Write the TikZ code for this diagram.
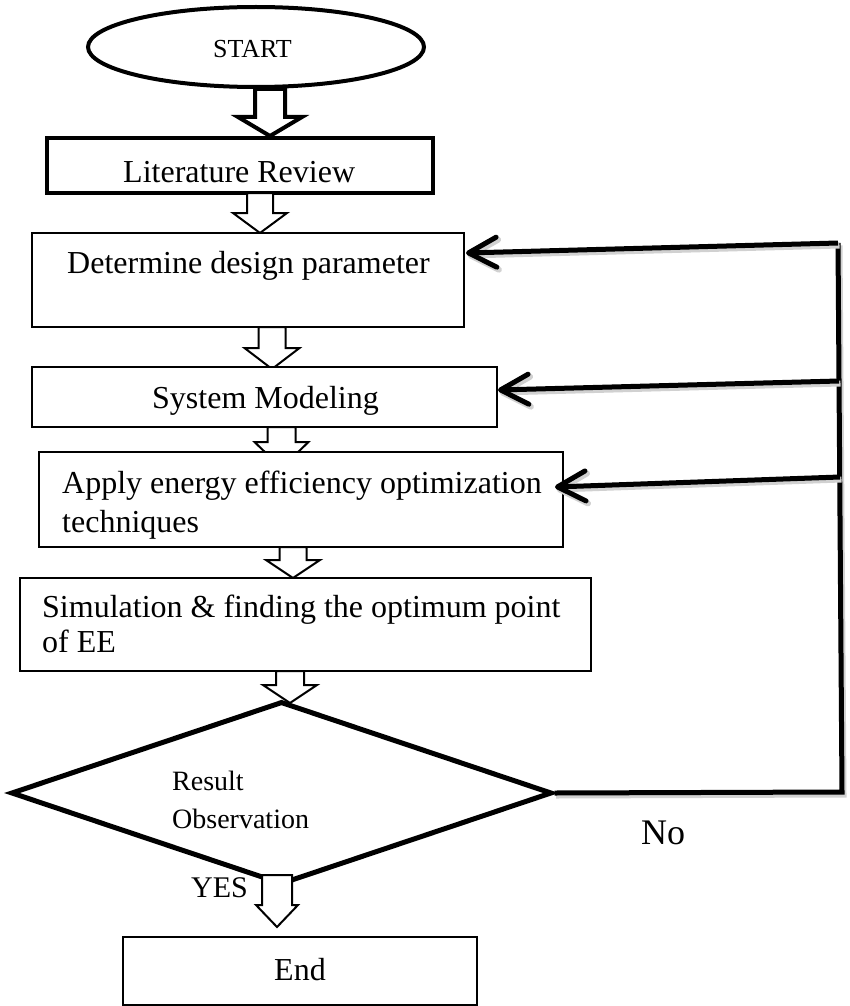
\documentclass[tikz,border=0pt]{standalone}
\usepackage{fontspec}
\setmainfont{Liberation Serif}
\usetikzlibrary{shapes.geometric,arrows.meta}
\newcommand{\dnarrow}[7]{%
  \draw[#1] ({#2-#6},#3) -- ({#2+#6},#3) -- ({#2+#6},#4) -- ({#2+#7},#4) -- (#2,#5) -- ({#2-#7},#4) -- ({#2-#6},#4) -- cycle;}
\begin{document}
\begin{tikzpicture}[x=1pt,y=-1pt,
  box/.style={draw, line width=2pt, fill=white, inner sep=0pt},
  txt/.style={inner sep=0pt, font=\fontsize{32}{37}\selectfont, anchor=base west},
  barrow/.style={draw, line width=2pt, fill=white, line join=miter},
  shad/.style={preaction={draw=black!18, line width=6pt, transform canvas={shift={(1.5pt,-2.5pt)}}}},
  fbline/.style={line width=5pt, line join=miter, shad},
  fbtip/.style={line width=5pt, shad, -{Straight Barb[length=28pt,width=30pt,round]}},
]
\useasboundingbox[fill=white] (0,0) rectangle (849,1006);

% START
\node[draw, ellipse, line width=4pt, minimum width=336pt, minimum height=80pt, inner sep=0pt] (start) at (256,47) {};
\node[inner sep=0pt, font=\fontsize{26}{30}\selectfont] (starttxt) at (252.5,49) {START};
\dnarrow{barrow, line width=4pt}{270}{89}{117}{136}{15}{32}

% Literature review
\node[box, line width=4pt, minimum width=386pt, minimum height=55pt] (lit) at (240,165.5) {};
\node[txt] (littxt) at (123,182) {Literature Review};
\dnarrow{barrow}{260}{193}{213}{233}{13}{27}

% Determine design parameter
\node[box, minimum width=432pt, minimum height=94pt] (det) at (248,280) {};
\node[txt] (dettxt) at (67,273) {Determine design parameter};
\dnarrow{barrow}{272}{327}{348}{369}{13.5}{27.5}

% System modeling
\node[box, minimum width=465pt, minimum height=60pt] (sys) at (264.5,397) {};
\node[txt] (systxt) at (152,408) {System Modeling};
\dnarrow{barrow}{281.5}{427}{442}{468}{14}{27}

% Apply
\node[box, minimum width=524pt, minimum height=95pt] (app) at (301,499.5) {};
\node[txt] (apptxt1) at (62,493) {Apply energy efficiency optimization};
\begin{scope}
  \clip (39,452) rectangle (563,546);
  \node[txt] (apptxt2) at (62,532) {techniques};
\end{scope}
\dnarrow{barrow}{293}{547}{560}{578}{13.5}{27}

% Simulation
\node[box, minimum width=571pt, minimum height=93pt] (sim) at (305.5,624.5) {};
\node[txt] (simtxt1) at (42,617) {Simulation \& finding the optimum point};
\node[txt] (simtxt2) at (42,652) {of EE};
\dnarrow{barrow}{290}{671}{685}{703}{14}{27}

% Decision
\node[draw, diamond, line width=5pt, minimum width=541pt, minimum height=183pt, inner sep=0pt] (dec) at (281.5,793) {};
\node[txt, font=\fontsize{28}{32}\selectfont] (res1) at (172,790) {Result};
\node[txt, font=\fontsize{28}{32}\selectfont] (res2) at (172,828) {Observation};

% YES / End
\dnarrow{barrow}{277}{875}{905}{927}{15}{21}
\node[inner sep=0pt, font=\fontsize{30}{34}\selectfont] (yes) at (219.5,888) {YES};
\node[box, minimum width=354pt, minimum height=68pt] (fin) at (300,971) {};
\node[inner sep=0pt, font=\fontsize{32}{34}\selectfont] (fintxt) at (300,970) {End};

% Feedback
\coordinate (c1) at (838,243);
\coordinate (c2) at (839,381);
\coordinate (c3) at (840,477);
\coordinate (c4) at (842,792);
\coordinate (t1) at (466,253);
\coordinate (t2) at (498,390);
\coordinate (t3) at (555,487);
\draw[fbline] (dec.east) -- (c4) -- (c1);
\draw[fbtip] (c1) -- (t1);
\draw[fbtip] (c2) -- (t2);
\draw[fbtip] (c3) -- (t3);
\node[inner sep=0pt, font=\fontsize{36}{40}\selectfont] (no) at (663,833) {No};
\end{tikzpicture}
\end{document}
